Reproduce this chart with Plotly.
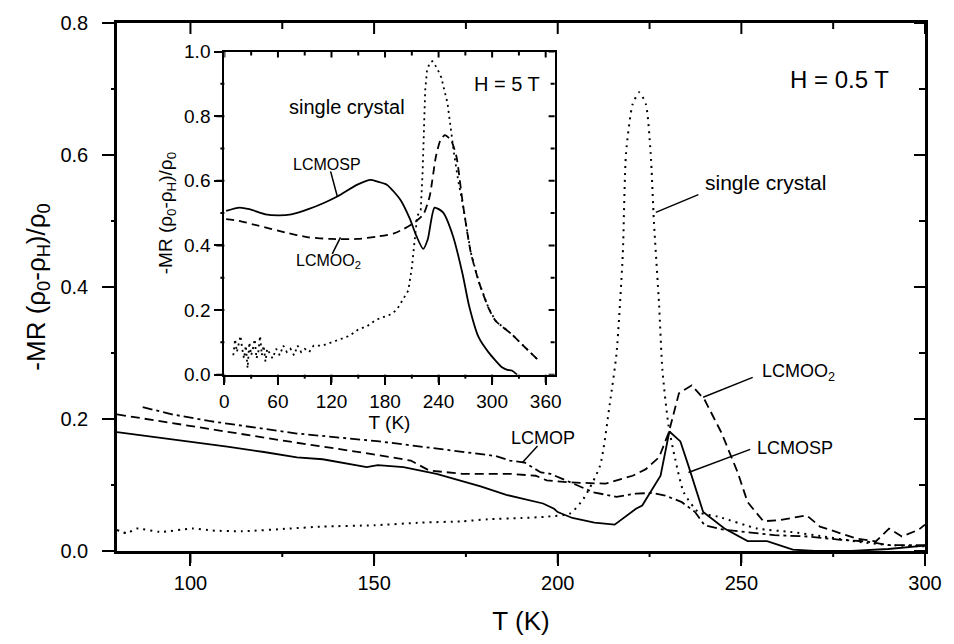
import plotly.graph_objects as go

FONT = "Liberation Sans, Arial, sans-serif"

# ---------------- main panel (H = 0.5 T) ----------------
T_sp = [80, 90, 100, 110, 120, 129, 136, 148, 151, 158, 167, 176, 179, 186, 192, 196, 199, 200,
        204, 210, 215.5, 221.3, 223, 228, 230.4, 233.4, 235.6, 239.6, 245.4, 251.7, 257, 264,
        270, 280, 290, 296, 300]
V_sp = [0.180, 0.173, 0.166, 0.158, 0.150, 0.142, 0.139, 0.127, 0.130, 0.127, 0.117, 0.102, 0.098,
        0.085, 0.077, 0.072, 0.064, 0.059, 0.050, 0.043, 0.040, 0.064, 0.069, 0.114, 0.181, 0.166,
        0.129, 0.059, 0.034, 0.015, 0.015, 0.002, 0.0, 0.0, 0.003, 0.006, 0.008]

T_o2 = [80, 90, 100, 110, 120, 129, 147, 160, 165, 174, 187, 194, 197, 203, 213, 217, 220.4, 224,
        227.6, 230.2, 233, 236.5, 240, 244.6, 249, 251.7, 256, 260.6, 267.8, 271.4, 276.8, 281.3,
        286.6, 290.2, 293.7, 298.2, 300]
V_o2 = [0.207, 0.198, 0.189, 0.180, 0.171, 0.164, 0.149, 0.137, 0.122, 0.117, 0.117, 0.114, 0.107,
        0.104, 0.102, 0.109, 0.114, 0.124, 0.142, 0.179, 0.239, 0.251, 0.229, 0.179, 0.119, 0.074,
        0.045, 0.047, 0.054, 0.037, 0.027, 0.019, 0.0145, 0.034, 0.022, 0.032, 0.040]

T_op = [87, 95, 105, 115, 129, 151.5, 174, 183, 187, 191, 195.4, 198, 204.3, 209.7, 216, 221.3,
        225.8, 229.3, 233.8, 237.4, 240, 245.4, 250.8, 259, 268, 277, 284, 290, 300]
V_op = [0.218, 0.207, 0.197, 0.189, 0.178, 0.166, 0.151, 0.144, 0.137, 0.134, 0.119, 0.117, 0.102,
        0.089, 0.082, 0.087, 0.088, 0.084, 0.074, 0.059, 0.039, 0.032, 0.029, 0.024, 0.022, 0.017,
        0.0145, 0.009, 0.009]

T_sc = [80, 82.7, 85.4, 91.6, 100.5, 106, 114, 127, 136, 150, 163, 174, 181, 190, 197, 203.4, 207,
        211.5, 214.2, 216, 217.7, 218.6, 220.4, 222.2, 224, 225.3, 226.2, 227.6, 228.5, 230.2, 232,
        234.3, 238.3, 243.7, 254.4, 263.3, 272.3, 281.2, 290.2, 300]
V_sc = [0.032, 0.027, 0.034, 0.029, 0.034, 0.031, 0.030, 0.034, 0.037, 0.039, 0.043, 0.045, 0.048,
        0.050, 0.052, 0.057, 0.079, 0.129, 0.224, 0.299, 0.448, 0.603, 0.677, 0.695, 0.677, 0.603,
        0.498, 0.373, 0.274, 0.189, 0.139, 0.089, 0.059, 0.052, 0.034, 0.029, 0.022, 0.0145, 0.009,
        0.007]

# ---------------- inset (H = 5 T) ----------------
Ti_sp = [2, 17, 28, 46, 61, 75, 94, 112, 127, 149, 164, 171, 182, 197, 208, 215, 222.7, 228, 235.5,
         245, 256, 267, 274, 285, 296, 311, 317, 322, 328]
Vi_sp = [0.507, 0.517, 0.512, 0.496, 0.493, 0.496, 0.512, 0.532, 0.552, 0.588, 0.603, 0.598, 0.588,
         0.542, 0.481, 0.430, 0.389, 0.420, 0.517, 0.502, 0.430, 0.310, 0.215, 0.115, 0.069, 0.023,
         0.015, 0.013, 0.0]

Ti_o2 = [2, 16, 38, 68, 94, 120, 149, 171, 190, 201, 213, 223, 230, 237, 242, 247, 254, 260, 267,
         276, 285, 296, 304, 322, 337, 352]
Vi_o2 = [0.481, 0.476, 0.461, 0.440, 0.425, 0.420, 0.420, 0.427, 0.437, 0.451, 0.471, 0.496, 0.552,
         0.675, 0.725, 0.741, 0.725, 0.675, 0.532, 0.379, 0.288, 0.206, 0.166, 0.125, 0.084, 0.044]

Ti_sc = [10, 12, 14, 16, 18, 20, 22, 24, 26, 28, 30, 32, 34, 36, 38, 40, 42, 44, 46, 48, 50, 54, 58,
         62, 66, 70, 74, 78, 82, 86, 90, 95, 100, 110, 120, 130, 140, 150, 160, 170, 180, 186, 193,
         200, 206, 210, 213, 216, 220, 222, 223.5, 225, 227, 230, 233, 238, 243, 250, 257, 262, 267,
         276, 285, 296, 304, 322, 337, 352]
Vi_sc = [0.06, 0.11, 0.07, 0.10, 0.12, 0.08, 0.05, 0.09, 0.02, 0.10, 0.06, 0.08, 0.11, 0.05, 0.07,
         0.12, 0.06, 0.09, 0.04, 0.08, 0.07, 0.05, 0.08, 0.06, 0.09, 0.07, 0.08, 0.06, 0.09, 0.07,
         0.08, 0.07, 0.09, 0.09, 0.10, 0.11, 0.12, 0.14, 0.15, 0.17, 0.18, 0.186, 0.20, 0.23, 0.26,
         0.33, 0.42, 0.49, 0.51, 0.62, 0.75, 0.88, 0.94, 0.965, 0.97, 0.95, 0.92, 0.84, 0.69, 0.60,
         0.53, 0.379, 0.288, 0.206, 0.166, 0.125, 0.084, 0.044]

# ---------------- tick values ----------------
MX_MAJOR = [100, 150, 200, 250, 300]
MX_MINOR = [125, 175, 225, 275]
MY_MAJOR = [0.0, 0.2, 0.4, 0.6, 0.8]
MY_MINOR = [0.1, 0.3, 0.5, 0.7]
IX_MAJOR = [0, 60, 120, 180, 240, 300, 360]
IX_MINOR = [30, 90, 150, 210, 270, 330]
IY_MAJOR = [0.0, 0.2, 0.4, 0.6, 0.8, 1.0]
IY_MINOR = [0.1, 0.3, 0.5, 0.7, 0.9]

BLACK = "#000000"
fig = go.Figure()

fig.add_trace(go.Scatter(x=T_sc, y=V_sc, mode="lines", line=dict(color=BLACK, width=2, dash="2px,5px", shape="spline", smoothing=0.6), showlegend=False))
fig.add_trace(go.Scatter(x=T_op, y=V_op, mode="lines", line=dict(color=BLACK, width=1.8, dash="10px,4px,3px,4px"), showlegend=False))
fig.add_trace(go.Scatter(x=T_o2, y=V_o2, mode="lines", line=dict(color=BLACK, width=1.8, dash="9px,5px"), showlegend=False))
fig.add_trace(go.Scatter(x=T_sp, y=V_sp, mode="lines", line=dict(color=BLACK, width=1.8), showlegend=False))

fig.add_trace(go.Scatter(x=Ti_sc, y=Vi_sc, xaxis="x2", yaxis="y2", mode="lines", line=dict(color=BLACK, width=1.8, dash="2px,4px"), showlegend=False))
fig.add_trace(go.Scatter(x=Ti_o2, y=Vi_o2, xaxis="x2", yaxis="y2", mode="lines", line=dict(color=BLACK, width=1.8, dash="8px,5px", shape="spline", smoothing=0.6), showlegend=False))
fig.add_trace(go.Scatter(x=Ti_sp, y=Vi_sp, xaxis="x2", yaxis="y2", mode="lines", line=dict(color=BLACK, width=1.8, shape="spline", smoothing=0.6), showlegend=False))


def ax(rng, tvals, tlen, lw, fsize, **kw):
    return dict(range=rng, tickmode="array", tickvals=tvals, ticks="outside", ticklen=tlen, tickwidth=2,
                tickcolor=BLACK, showline=True, linewidth=lw, linecolor=BLACK, mirror=True,
                showgrid=False, zeroline=False, tickfont=dict(size=fsize, color=BLACK), **kw)


fig.update_layout(
    width=954, height=644, autosize=False,
    margin=dict(l=117, r=19, t=18, b=91),
    paper_bgcolor="white", plot_bgcolor="white",
    font=dict(family=FONT, color=BLACK, size=20),
    xaxis=ax([80, 300], MX_MAJOR, 12, 2.5, 20, domain=[0, 1], anchor="y",
             title=dict(text="T (K)", font=dict(size=26), standoff=20)),
    yaxis=ax([0, 0.8], MY_MAJOR, 12, 2.5, 20, domain=[0, 1], anchor="x", tickformat=".1f",
             ticklabelstandoff=10,
             title=dict(text="-MR (ρ<sub>0</sub>-ρ<sub>H</sub>)/ρ<sub>0</sub>", font=dict(size=26), standoff=8)),
    xaxis2=ax([0, 370], IX_MAJOR, 8, 2.2, 19, domain=[0.1329, 0.5416], anchor="y2",
              title=dict(text="T (K)", font=dict(size=19), standoff=4)),
    yaxis2=ax([0, 1.0], IY_MAJOR, 8, 2.2, 19, domain=[0.334, 0.946], anchor="x2", tickformat=".1f",
              title=dict(text="-MR (ρ<sub>0</sub>-ρ<sub>H</sub>)/ρ<sub>0</sub>", font=dict(size=19), standoff=6)),
)

ann = [
    dict(text="H = 0.5 T", x=276.8, y=0.715, xref="x", yref="y", font=dict(size=24)),
    dict(text="single crystal", x=256.6, y=0.558, xref="x", yref="y", font=dict(size=21)),
    dict(text="LCMOO<sub>2</sub>", x=265.5, y=0.271, xref="x", yref="y", font=dict(size=18)),
    dict(text="LCMOSP", x=264.7, y=0.156, xref="x", yref="y", font=dict(size=18)),
    dict(text="LCMOP", x=196, y=0.1715, xref="x", yref="y", font=dict(size=18)),
    dict(text="H = 5 T", x=316.4, y=0.898, xref="x2", yref="y2", font=dict(size=20)),
    dict(text="single crystal", x=137.5, y=0.828, xref="x2", yref="y2", font=dict(size=20)),
    dict(text="LCMOSP", x=115.4, y=0.65, xref="x2", yref="y2", font=dict(size=16)),
    dict(text="LCMOO<sub>2</sub>", x=117, y=0.349, xref="x2", yref="y2", font=dict(size=16)),
]
for a in ann:
    a.update(showarrow=False, xanchor="center", yanchor="middle")
fig.update_layout(annotations=ann)

shapes = []
leaders = [
    ("x", "y", 226.7, 0.513, 238.3, 0.540),
    ("x", "y", 239.6, 0.233, 253.1, 0.263),
    ("x", "y", 235.6, 0.119, 252.4, 0.154),
    ("x", "y", 190.4, 0.134, 194.5, 0.159),
    ("x2", "y2", 126.4, 0.553, 119.0, 0.629),
    ("x2", "y2", 120.9, 0.374, 130.1, 0.425),
]
for xr, yr, a, b, c, d in leaders:
    shapes.append(dict(type="line", xref=xr, yref=yr, x0=a, y0=b, x1=c, y1=d,
                       line=dict(color=BLACK, width=1.5)))


def xticks(xr, yr, vals, out_len, in_len):
    # filled 2px-wide rectangles used as tick marks: bottom outward, top inward
    for v in vals:
        for anchor, y0, y1 in ((0, 0, -out_len), (1, 0, -in_len)):
            shapes.append(dict(type="rect", xref=xr, yref=yr + " domain",
                               xsizemode="pixel", xanchor=v, x0=-1, x1=1,
                               ysizemode="pixel", yanchor=anchor, y0=y0, y1=y1,
                               fillcolor=BLACK, line=dict(width=0), layer="above"))


def yticks(xr, yr, vals, out_len, in_len):
    # left outward, right inward
    for v in vals:
        for anchor, x0, x1 in ((0, 0, -out_len), (1, 0, -in_len)):
            shapes.append(dict(type="rect", xref=xr + " domain", yref=yr,
                               ysizemode="pixel", yanchor=v, y0=-1, y1=1,
                               xsizemode="pixel", xanchor=anchor, x0=x0, x1=x1,
                               fillcolor=BLACK, line=dict(width=0), layer="above"))


xticks("x", "y", MX_MAJOR, 12, 11)
xticks("x", "y", MX_MINOR, 6, 6)
yticks("x", "y", MY_MAJOR, 12, 11)
yticks("x", "y", MY_MINOR, 6, 6)
xticks("x2", "y2", IX_MAJOR, 8, 6)
xticks("x2", "y2", IX_MINOR, 4, 4)
yticks("x2", "y2", IY_MAJOR, 8, 6)
yticks("x2", "y2", IY_MINOR, 4, 4)

fig.update_layout(shapes=shapes)

fig.write_html("out.html")
